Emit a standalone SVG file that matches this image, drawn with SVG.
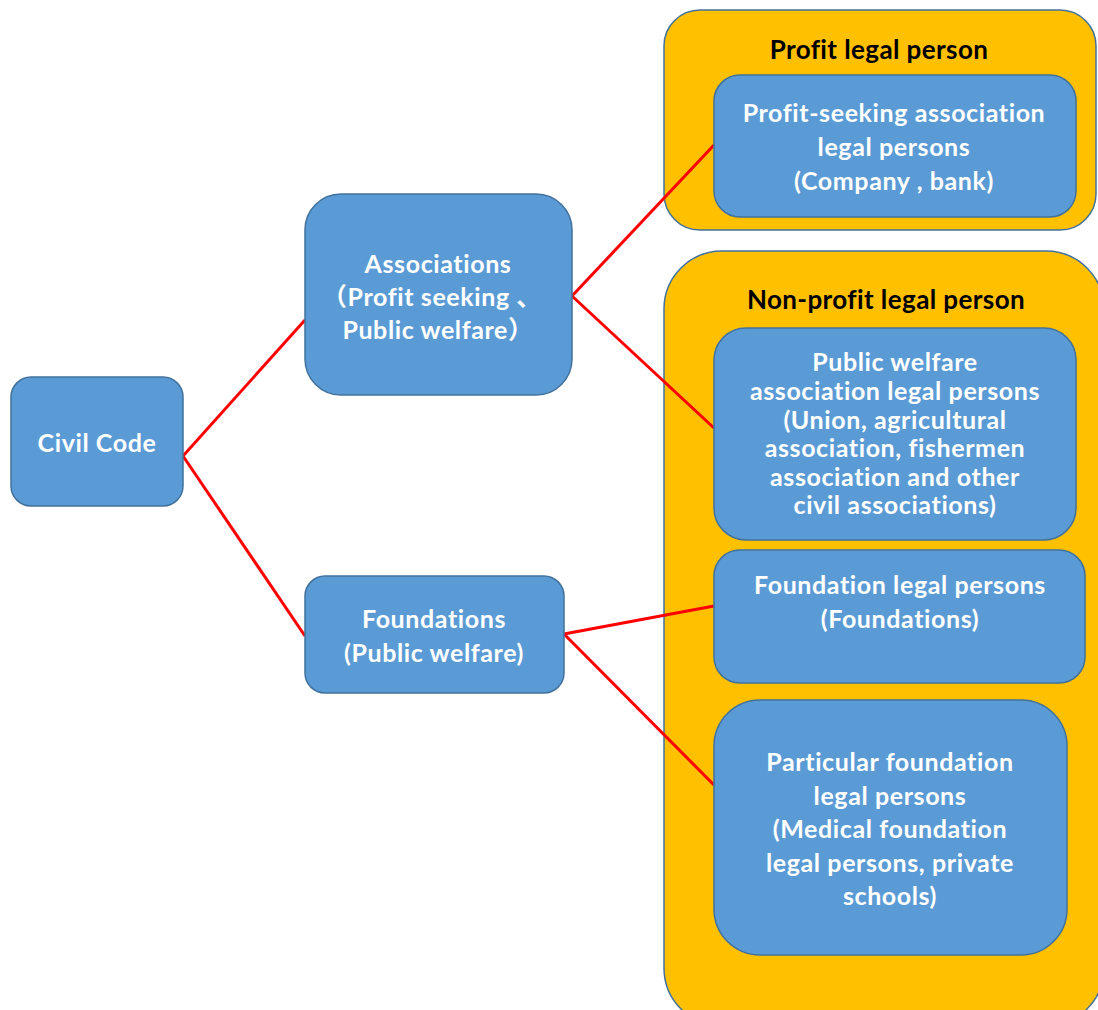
<svg xmlns="http://www.w3.org/2000/svg" width="1098" height="1010" viewBox="0 0 1098 1010">
<style>
.box{fill:#5B9BD5;stroke:#41719C;stroke-width:1.5}
.grp{fill:#FFC000;stroke:#41719C;stroke-width:1.5}
.t{font-family:Lato,"Liberation Sans","Noto Sans CJK SC",sans-serif;font-weight:bold;font-size:25px;letter-spacing:0.6px;fill:#fff;text-anchor:middle}
.h{font-family:Lato,"Liberation Sans",sans-serif;font-weight:bold;font-size:26px;letter-spacing:0.4px;fill:#000;text-anchor:middle}
.c{stroke:#FF0000;stroke-width:3;fill:none}
</style>
<rect width="1098" height="1010" fill="#fff"/>
<g id="profit-group">
<rect class="grp" x="664" y="10" width="432" height="220" rx="36"/>
<text class="h" x="879" y="59">Profit legal person</text>
</g>
<g id="nonprofit-group">
<rect class="grp" x="664" y="251" width="440" height="775" rx="58"/>
<text class="h" x="886" y="309">Non-profit legal person</text>
</g>
<g id="connectors">
<line class="c" x1="183" y1="456" x2="305" y2="320"/>
<line class="c" x1="183" y1="456" x2="305" y2="636"/>
<line class="c" x1="572" y1="296" x2="714" y2="145"/>
<line class="c" x1="572" y1="296" x2="714" y2="428"/>
<line class="c" x1="564" y1="634" x2="714" y2="606"/>
<line class="c" x1="564" y1="634" x2="714" y2="785"/>
</g>
<g id="civil-code">
<rect class="box" x="11" y="377" width="172" height="129" rx="20"/>
<text class="t" x="97" y="452">Civil Code</text>
</g>
<g id="associations">
<rect class="box" x="305" y="194" width="267" height="201" rx="36"/>
<text class="t" x="438" y="273">Associations</text>
<text class="t" x="432" y="306">（Profit seeking 、</text>
<text class="t" x="438" y="339">Public welfare）</text>
</g>
<g id="foundations">
<rect class="box" x="305" y="576" width="259" height="117" rx="20"/>
<text class="t" x="434" y="628">Foundations</text>
<text class="t" x="434" y="662">(Public welfare)</text>
</g>
<g id="profit-seeking">
<rect class="box" x="714" y="75" width="362" height="142" rx="26"/>
<text class="t" x="894" y="122">Profit-seeking association</text>
<text class="t" x="894" y="156">legal persons</text>
<text class="t" x="894" y="190">(Company , bank)</text>
</g>
<g id="public-welfare">
<rect class="box" x="714" y="328" width="362" height="212" rx="32"/>
<text class="t" x="895" y="371">Public welfare</text>
<text class="t" x="895" y="400">association legal persons</text>
<text class="t" x="895" y="429">(Union, agricultural</text>
<text class="t" x="895" y="457">association, fishermen</text>
<text class="t" x="895" y="486">association and other</text>
<text class="t" x="895" y="514">civil associations)</text>
</g>
<g id="foundation-legal">
<rect class="box" x="714" y="550" width="371" height="133" rx="26"/>
<text class="t" x="900" y="594">Foundation legal persons</text>
<text class="t" x="900" y="628">(Foundations)</text>
</g>
<g id="particular-foundation">
<rect class="box" x="714" y="700" width="353" height="255" rx="46"/>
<text class="t" x="890" y="771">Particular foundation</text>
<text class="t" x="890" y="805">legal persons</text>
<text class="t" x="890" y="838">(Medical foundation</text>
<text class="t" x="890" y="872">legal persons, private</text>
<text class="t" x="890" y="905">schools)</text>
</g>
</svg>
